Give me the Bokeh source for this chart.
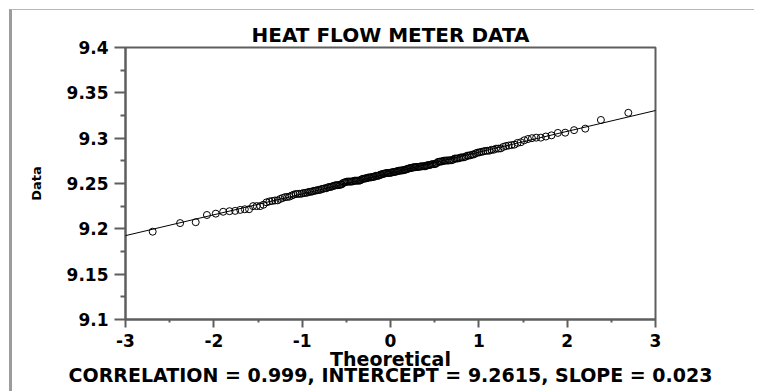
import numpy as np
from statistics import NormalDist
from bokeh.plotting import figure
from bokeh.models import FixedTicker, Slope, Range1d
from bokeh.embed import file_html
from bokeh.resources import INLINE

# Heat flow meter readings (as plotted)
heat_flow = [
    9.206343, 9.299992, 9.277895, 9.305795, 9.275351, 9.288729, 9.287239, 9.260973, 9.303111, 9.275674,
    9.272561, 9.288454, 9.255672, 9.252141, 9.297670, 9.266534, 9.256689, 9.277542, 9.248205, 9.252107,
    9.276345, 9.278694, 9.267144, 9.246132, 9.238479, 9.269058, 9.248239, 9.257439, 9.268481, 9.288454,
    9.258452, 9.286130, 9.251479, 9.257405, 9.268343, 9.291302, 9.219460, 9.270386, 9.218808, 9.241185,
    9.269989, 9.226585, 9.258556, 9.286184, 9.320067, 9.327973, 9.262963, 9.248181, 9.238644, 9.225073,
    9.220878, 9.271318, 9.252072, 9.281186, 9.270624, 9.294771, 9.301821, 9.278849, 9.236680, 9.233988,
    9.244687, 9.221601, 9.207325, 9.258776, 9.275708, 9.268955, 9.257269, 9.264979, 9.295500, 9.292883,
    9.264188, 9.280731, 9.267336, 9.300566, 9.253089, 9.261376, 9.238409, 9.225073, 9.235526, 9.239510,
    9.264487, 9.244242, 9.277542, 9.310506, 9.261594, 9.259791, 9.253089, 9.245735, 9.284058, 9.251122,
    9.275385, 9.254619, 9.279526, 9.275065, 9.261952, 9.275351, 9.252433, 9.230263, 9.255150, 9.268780,
    9.290389, 9.274161, 9.255707, 9.261663, 9.250455, 9.261952, 9.264041, 9.264509, 9.242114, 9.239674,
    9.221553, 9.241935, 9.215265, 9.285930, 9.271559, 9.266046, 9.285299, 9.268989, 9.267987, 9.246166,
    9.231304, 9.240768, 9.260506, 9.274355, 9.292376, 9.271170, 9.267018, 9.308838, 9.264153, 9.278822,
    9.255244, 9.229221, 9.253158, 9.256292, 9.262602, 9.219793, 9.258452, 9.267987, 9.267987, 9.248903,
    9.235153, 9.242933, 9.253453, 9.262671, 9.242536, 9.260803, 9.259825, 9.253123, 9.240803, 9.238712,
    9.263676, 9.243002, 9.246826, 9.252107, 9.261663, 9.247311, 9.306055, 9.237646, 9.248937, 9.256689,
    9.265777, 9.299047, 9.244814, 9.287205, 9.300566, 9.256621, 9.271318, 9.275154, 9.281834, 9.253158,
    9.269024, 9.282077, 9.277507, 9.284910, 9.239840, 9.268344, 9.247778, 9.225039, 9.230750, 9.270024,
    9.265095, 9.284308, 9.280697, 9.263032, 9.291851, 9.252072, 9.244031, 9.283269, 9.196848, 9.231372,
    9.232963, 9.234956, 9.216746, 9.274107, 9.273776,
]

x_ticks = [-3, -2, -1, 0, 1, 2, 3]
x_tick_labels = ["-3", "-2", "-1", "0", "1", "2", "3"]
x_minor_ticks = [-2.5, -1.5, -0.5, 0.5, 1.5, 2.5]
y_ticks = [9.1, 9.15, 9.2, 9.25, 9.3, 9.35, 9.4]
y_tick_labels = ["9.1", "9.15", "9.2", "9.25", "9.3", "9.35", "9.4"]
y_minor_ticks = [9.125, 9.175, 9.225, 9.275, 9.325, 9.375]

fit_correlation = "0.999"
fit_intercept = 9.2615
fit_slope = 0.023

title_text = "HEAT FLOW METER DATA"
x_label = "Theoretical"
y_label = "Data"

# normal probability plot positions (uniform order statistic medians)
data_sorted = np.sort(np.array(heat_flow))
n = len(data_sorted)
med = (np.arange(1, n + 1) - 0.3175) / (n + 0.365)
med[-1] = 0.5 ** (1.0 / n)
med[0] = 1.0 - med[-1]
nd = NormalDist()
theoretical = [nd.inv_cdf(float(v)) for v in med]

FONT = "DejaVu Sans"
AX = "#5e5e5e"

p = figure(width=745, height=382, x_range=Range1d(-3, 3), y_range=Range1d(9.1, 9.4),
           output_backend="svg", toolbar_location=None, title=title_text,
           min_border_left=113, min_border_right=102, min_border_top=37, min_border_bottom=73)
p.styles = {"margin-left": "9px", "margin-top": "9px",
            "border-left": "3px solid #9c9c9c", "border-top": "1px solid #b8b8b8"}

p.background_fill_color = "white"
p.border_fill_color = "white"
p.outline_line_color = AX
p.outline_line_width = 2
p.xgrid.visible = False
p.ygrid.visible = False

p.title.align = "center"
p.title.text_font = FONT
p.title.text_font_style = "bold"
p.title.text_font_size = "20px"
p.title.text_color = "black"
p.title.standoff = 2

p.xaxis.ticker = FixedTicker(ticks=x_ticks, minor_ticks=x_minor_ticks)
p.xaxis.major_label_overrides = {t: l for t, l in zip(x_ticks, x_tick_labels)}
p.yaxis.ticker = FixedTicker(ticks=y_ticks, minor_ticks=y_minor_ticks)
p.yaxis.major_label_overrides = {t: l for t, l in zip(y_ticks, y_tick_labels)}

for ax in (p.xaxis, p.yaxis):
    ax.axis_line_color = AX
    ax.axis_line_width = 2
    ax.major_tick_line_color = AX
    ax.major_tick_line_width = 2
    ax.minor_tick_line_color = AX
    ax.minor_tick_line_width = 2
    ax.major_tick_in = 0
    ax.minor_tick_in = 0
    ax.major_label_text_font = FONT
    ax.major_label_text_font_style = "bold"
    ax.major_label_text_font_size = "17px"
    ax.major_label_text_color = "black"
    ax.axis_label_text_font = FONT
    ax.axis_label_text_font_style = "bold"
    ax.axis_label_text_color = "black"

stats_text = "CORRELATION = %s, INTERCEPT = %s, SLOPE = %s" % (fit_correlation, fit_intercept, fit_slope)

p.xaxis.major_tick_out = 8
p.xaxis.minor_tick_out = 3
p.xaxis.major_label_standoff = 6
p.xaxis.axis_label = x_label + "\n" + stats_text
p.xaxis.axis_label_text_font_size = "19px"
p.xaxis.axis_label_text_line_height = 0.74
p.xaxis.axis_label_standoff = -2

p.yaxis.major_tick_out = 11
p.yaxis.minor_tick_out = 5
p.yaxis.major_label_standoff = 6
p.yaxis.axis_label = y_label
p.yaxis.axis_label_text_font_size = "13px"
p.yaxis.axis_label_standoff = 20

p.add_layout(Slope(gradient=fit_slope, y_intercept=fit_intercept,
                   line_color="black", line_width=1))

p.scatter(theoretical, data_sorted, marker="circle", size=7,
          fill_color=None, line_color="black", line_width=1)

open("out.html", "w").write(file_html(p, INLINE))
